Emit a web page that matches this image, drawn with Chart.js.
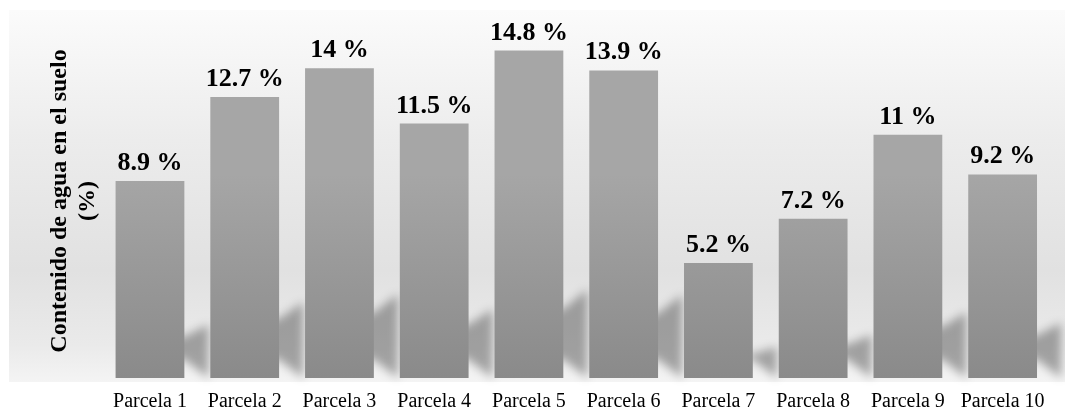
<!DOCTYPE html>
<html>
<head>
<meta charset="utf-8">
<script src="https://cdn.jsdelivr.net/npm/chart.js@4.4.1/dist/chart.umd.min.js"></script>
<style>
  html, body { margin: 0; padding: 0; background: #ffffff; }
  #wrap { width: 1065px; height: 409px; }
</style>
</head>
<body>
<div id="wrap"><canvas id="grafica"></canvas></div>
<script>
// parcelas y contenido de agua (%)
var parcelas = ['Parcela 1', 'Parcela 2', 'Parcela 3', 'Parcela 4', 'Parcela 5',
                'Parcela 6', 'Parcela 7', 'Parcela 8', 'Parcela 9', 'Parcela 10'];
var contenidoAgua = [8.9, 12.7, 14, 11.5, 14.8, 13.9, 5.2, 7.2, 11, 9.2];
var tituloEje = ['Contenido de agua en el suelo', '(%)'];

var fuente = "'Liberation Serif', 'Times New Roman', serif";

// fondo gris degradado detrás del área de barras
var fondo = {
    id: 'fondo',
    beforeDraw: function(chart) {
        var ctx = chart.ctx, area = chart.chartArea;
        var top = 10, bottom = area.bottom + 4, left = 9, right = chart.width;
        var g = ctx.createLinearGradient(0, top, 0, bottom);
        g.addColorStop(0, '#fbfbfb');
        g.addColorStop(0.35, '#ececec');
        g.addColorStop(0.7, '#e1e1e1');
        g.addColorStop(0.9, '#eaeaea');
        g.addColorStop(1, '#f4f4f4');
        ctx.save();
        ctx.fillStyle = g;
        ctx.fillRect(left, top, right - left, bottom - top);
        ctx.restore();
    }
};

// sombra difusa de cada barra y degradado de relleno
var sombras = {
    id: 'sombras',
    beforeDatasetsDraw: function(chart) {
        var ctx = chart.ctx;
        var meta = chart.getDatasetMeta(0);
        ctx.save();
        ctx.filter = 'blur(5px)';
        ctx.fillStyle = 'rgba(0,0,0,0.32)';
        meta.data.forEach(function(bar) {
            var l = bar.x - bar.width / 2, r = bar.x + bar.width / 2;
            var b = bar.base, h = b - bar.y, H = h * 0.27;
            ctx.beginPath();
            ctx.moveTo(r + 24, b);
            ctx.lineTo(r + 24, b - H);
            ctx.lineTo(r, b - H * 0.78);
            ctx.lineTo(l + 10, b - H * 0.6);
            ctx.lineTo(l + 10, b - 8);
            ctx.lineTo(r - 2, b - 20);
            ctx.closePath();
            ctx.fill();
        });
        ctx.restore();
        meta.data.forEach(function(bar) {
            var g = ctx.createLinearGradient(0, bar.y, 0, bar.base);
            g.addColorStop(0, '#a6a6a6');
            g.addColorStop(1, '#8a8a8a');
            bar.options.backgroundColor = g;
        });
    },
    afterDatasetsDraw: function(chart) {
        var ctx = chart.ctx;
        var meta = chart.getDatasetMeta(0);
        ctx.save();
        ctx.font = 'bold 26px ' + fuente;
        ctx.fillStyle = '#000000';
        ctx.textAlign = 'center';
        ctx.textBaseline = 'alphabetic';
        meta.data.forEach(function(bar, i) {
            ctx.fillText(contenidoAgua[i] + ' %', bar.x, bar.y - 11);
        });
        ctx.restore();
    }
};

var ctx = document.getElementById('grafica').getContext('2d');
var grafica = new Chart(ctx, {
    type: 'bar',
    data: {
        labels: parcelas,
        datasets: [{
            data: contenidoAgua,
            backgroundColor: '#999999',
            borderWidth: 0,
            barPercentage: 0.726,
            categoryPercentage: 1
        }]
    },
    options: {
        responsive: true,
        maintainAspectRatio: false,
        animation: false,
        layout: { padding: { top: 24, right: 15, bottom: -17, left: 41 } },
        plugins: {
            legend: { display: false },
            tooltip: { enabled: false }
        },
        scales: {
            x: {
                grid: { display: false, drawTicks: false },
                border: { display: false },
                ticks: {
                    color: '#000000',
                    padding: 12,
                    maxRotation: 0,
                    autoSkip: false,
                    font: { family: fuente, size: 20 }
                }
            },
            y: {
                min: 0,
                max: 16,
                grid: { display: false, drawTicks: false },
                border: { display: false },
                ticks: { display: false },
                title: {
                    display: true,
                    text: tituloEje,
                    color: '#000000',
                    padding: { top: 4, bottom: 0 },
                    font: { family: fuente, size: 24, weight: 'bold', lineHeight: 1.2 }
                }
            }
        }
    },
    plugins: [fondo, sombras]
});
</script>
</body>
</html>
